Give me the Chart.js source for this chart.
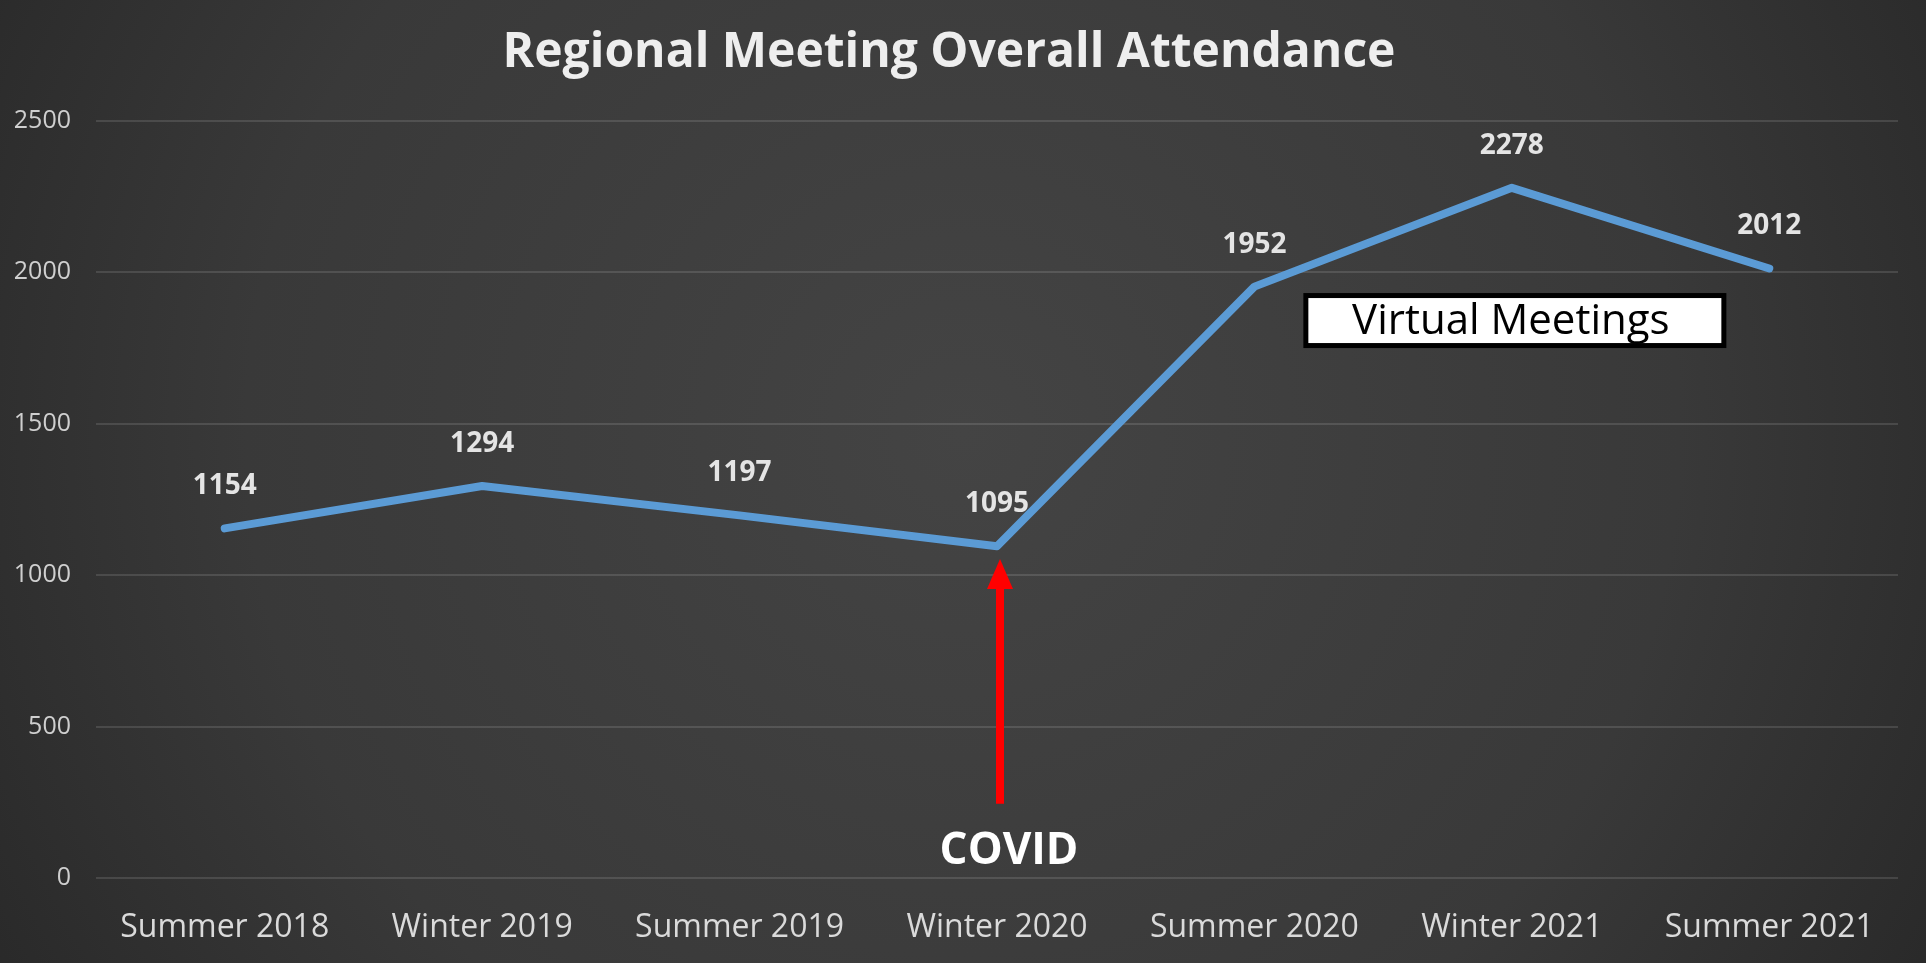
<!DOCTYPE html>
<html>
<head>
<meta charset="utf-8">
<script src="https://cdn.jsdelivr.net/npm/chart.js@4"></script>
<style>
  html, body { margin: 0; padding: 0; background: #303030; overflow: hidden; }
  #wrap { width: 1926px; height: 963px; }
</style>
</head>
<body>
<div id="wrap"><canvas id="chartAttendance"></canvas></div>
<script>
const meetings = ["Summer 2018", "Winter 2019", "Summer 2019", "Winter 2020", "Summer 2020", "Winter 2021", "Summer 2021"];
const attendance = [1154, 1294, 1197, 1095, 1952, 2278, 2012];

// notes on the chart
const covidIndex = 3;
const covidArrow = [245, 1053]; // from value, to value
const covidLabelValue = 89;
const virtualIndex = 5;
const virtualValue = 1840;

const bgPlugin = {
  id: "bg",
  beforeDraw(chart) {
    const { ctx, width, height } = chart;
    const g = ctx.createRadialGradient(width * 0.5, height * 0.45, 0, width * 0.5, height * 0.45, width * 0.62);
    g.addColorStop(0, "#444444");
    g.addColorStop(0.6, "#393939");
    g.addColorStop(1, "#262626");
    ctx.save();
    ctx.fillStyle = g;
    ctx.fillRect(0, 0, width, height);
    ctx.restore();
  }
};

// value labels above the line
const valueLabels = {
  id: "valueLabels",
  afterDatasetsDraw(chart) {
    const { ctx } = chart;
    const meta = chart.getDatasetMeta(0);
    ctx.save();
    ctx.font = "bold 28px 'Open Sans'";
    ctx.fillStyle = "#e4e4e4";
    ctx.textAlign = "center";
    ctx.textBaseline = "middle";
    meta.data.forEach((pt, i) => {
      ctx.fillText(String(attendance[i]), pt.x, pt.y - 42);
    });
    ctx.restore();
  }
};

const notes = {
  id: "notes",
  afterDatasetsDraw(chart) {
    const { ctx } = chart;
    const x = chart.scales.x, y = chart.scales.y;

    // COVID arrow
    const ax = x.getPixelForValue(covidIndex) + 3;
    const y0 = y.getPixelForValue(covidArrow[0]);
    const y1 = y.getPixelForValue(covidArrow[1]);
    ctx.save();
    ctx.strokeStyle = "#ff0000";
    ctx.fillStyle = "#ff0000";
    ctx.lineWidth = 8;
    ctx.beginPath();
    ctx.moveTo(ax, y0);
    ctx.lineTo(ax, y1 + 24);
    ctx.stroke();
    ctx.beginPath();
    ctx.moveTo(ax, y1);
    ctx.lineTo(ax - 13, y1 + 30);
    ctx.lineTo(ax + 13, y1 + 30);
    ctx.closePath();
    ctx.fill();

    ctx.font = "bold 44px 'Open Sans'";
    ctx.fillStyle = "#ffffff";
    ctx.textAlign = "center";
    ctx.textBaseline = "middle";
    ctx.fillText("COVID", ax + 9, y.getPixelForValue(covidLabelValue));

    // Virtual Meetings box
    const bx = x.getPixelForValue(virtualIndex) + 3;
    const by = y.getPixelForValue(virtualValue);
    const bw = 418, bh = 50;
    ctx.fillStyle = "#ffffff";
    ctx.fillRect(bx - bw / 2, by - bh / 2, bw, bh);
    ctx.strokeStyle = "#000000";
    ctx.lineWidth = 5;
    ctx.strokeRect(bx - bw / 2, by - bh / 2, bw, bh);
    ctx.font = "42px 'Open Sans'";
    ctx.fillStyle = "#000000";
    ctx.fillText("Virtual Meetings", bx - 4, by + 1);
    ctx.restore();
  }
};

const ctx1 = document.getElementById("chartAttendance").getContext("2d");
new Chart(ctx1, {
  type: "line",
  data: {
    labels: meetings,
    datasets: [{
      label: "Attendance",
      data: attendance,
      borderColor: "#5b9bd5",
      borderWidth: 8,
      borderJoinStyle: "round",
      borderCapStyle: "round",
      pointRadius: 0,
      pointHoverRadius: 0,
      tension: 0,
      fill: false
    }]
  },
  options: {
    responsive: true,
    maintainAspectRatio: false,
    animation: false,
    layout: { padding: { left: 0, right: 28, top: 0, bottom: 0 } },
    plugins: {
      legend: { display: false },
      tooltip: { enabled: false },
      title: {
        display: true,
        text: "Regional Meeting Overall Attendance",
        color: "#eeeeee",
        font: { family: "'Open Sans'", size: 48, weight: "bold", lineHeight: 1.2 },
        padding: { top: 25, bottom: 38 }
      }
    },
    scales: {
      x: {
        offset: true,
        afterFit(scale) { scale.height = 85; },
        grid: { display: false, drawTicks: false },
        border: { display: false },
        ticks: {
          color: "#dadada",
          font: { family: "'Open Sans'", size: 32 },
          padding: 31,
          maxRotation: 0,
          autoSkip: false
        }
      },
      y: {
        min: 0,
        max: 2500,
        afterFit(scale) { scale.width = 96; },
        grid: { color: "rgba(255,255,255,0.12)", lineWidth: 2, drawTicks: false },
        border: { display: false },
        ticks: {
          stepSize: 500,
          color: "#cfcfcf",
          font: { family: "'Open Sans'", size: 25 },
          padding: 25,
          callback: v => String(v)
        }
      }
    }
  },
  plugins: [bgPlugin, valueLabels, notes]
});
</script>
</body>
</html>
